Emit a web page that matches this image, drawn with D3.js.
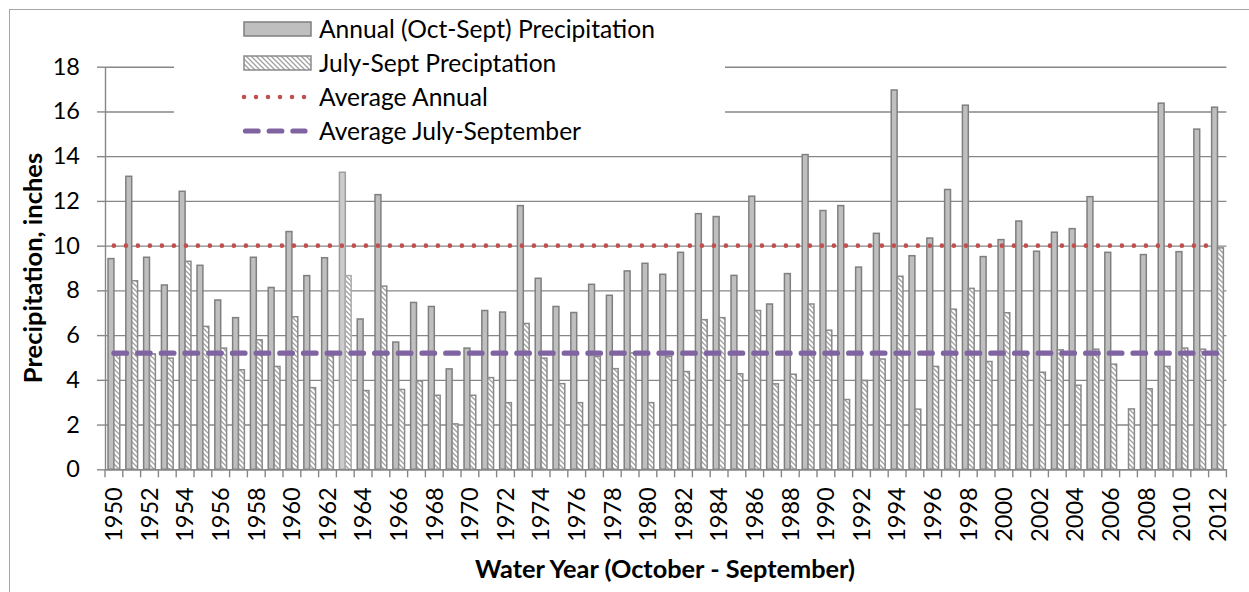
<!DOCTYPE html>
<html>
<head>
<meta charset="utf-8">
<script src="https://cdn.jsdelivr.net/npm/d3@7"></script>
<style>
  html, body { margin: 0; padding: 0; background: #fff; }
  svg { display: block; }
  text { font-family: Lato, "Open Sans", sans-serif; fill: #000; }
</style>
</head>
<body>
<svg id="chart" width="1249" height="592"></svg>
<script>
// ---- data ----
const years = [1950,1951,1952,1953,1954,1955,1956,1957,1958,1959,
  1960,1961,1962,1963,1964,1965,1966,1967,1968,1969,
  1970,1971,1972,1973,1974,1975,1976,1977,1978,1979,
  1980,1981,1982,1983,1984,1985,1986,1987,1988,1989,
  1990,1991,1992,1993,1994,1995,1996,1997,1998,1999,
  2000,2001,2002,2003,2004,2005,2006,2007,2008,2009,
  2010,2011,2012];
const annual = [9.42,13.1,9.48,8.24,12.43,9.12,7.57,6.78,9.48,8.13,
  10.63,8.66,9.46,13.28,6.72,12.28,5.69,7.46,7.28,4.49,
  5.42,7.1,7.03,11.79,8.54,7.28,7.01,8.27,7.78,8.87,
  9.21,8.72,9.7,11.43,11.3,8.67,12.21,7.39,8.75,14.07,
  11.57,11.79,9.04,10.55,16.96,9.55,10.34,12.51,16.28,9.51,
  10.27,11.1,9.75,10.6,10.76,12.19,9.7,null,9.6,16.37,
  9.73,15.21,16.19];
const julySept = [5.1,8.43,5.16,4.97,9.3,6.39,5.42,4.45,5.79,4.6,
  6.82,3.65,5.07,8.66,3.52,8.19,3.57,3.95,3.31,2.03,
  3.31,4.1,2.98,6.52,4.97,3.83,2.98,5.05,4.5,5.2,
  2.98,5.04,4.37,6.69,6.78,4.27,7.1,3.82,4.25,7.39,
  6.22,3.12,3.97,4.93,8.63,2.69,4.6,7.16,8.09,4.82,
  7.0,5.1,4.34,5.34,3.76,5.37,4.7,2.7,3.6,4.6,
  5.42,5.37,9.9];
const avgAnnual = 10.0;
const avgJulySept = 5.19;
const yTicks = [0,2,4,6,8,10,12,14,16,18];
const xLabelYears = years.filter((d, i) => i % 2 === 0);
const legendLabels = ["Annual (Oct-Sept) Precipitation", "July-Sept Preciptation", "Average Annual", "Average July-September"];
const yTitle = "Precipitation, inches";
const xTitle = "Water Year (October - September)";

// ---- layout ----
const svg = d3.select("#chart");
const L = 105, R = 1226.4, T = 66.7, B = 469.3;
const gridColor = "#878787";

const x = d3.scaleBand().domain(years).range([L, R]).paddingInner(0).paddingOuter(0);
const y = d3.scaleLinear().domain([0, 18]).range([B, T]);
const bw = x.bandwidth() * 0.33;

// defs: hatch
const defs = svg.append("defs");
const pat = defs.append("pattern").attr("id", "hatch").attr("patternUnits", "userSpaceOnUse")
  .attr("width", 5).attr("height", 5);
pat.append("rect").attr("width", 5).attr("height", 5).attr("fill", "#fff");
pat.append("path").attr("d", "M0,0 L5,5 M-1,4 L1,6 M4,-1 L6,1")
  .attr("stroke", "#a0a0a0").attr("stroke-width", 1.3);

// outer border
svg.append("rect").attr("x", 9.5).attr("y", 9.5).attr("width", 1400).attr("height", 800)
  .attr("fill", "none").attr("stroke", "#a6a6a6").attr("stroke-width", 1);

// gridlines
svg.append("g").attr("class", "grid")
  .attr("transform", `translate(${L},0)`)
  .call(d3.axisLeft(y).tickValues(yTicks).tickSize(-(R - L)).tickFormat(""))
  .call(g => g.select(".domain").remove())
  .call(g => g.selectAll("line").attr("stroke", gridColor).attr("stroke-width", 1.4));

// y axis
svg.append("g").attr("transform", `translate(${L},0)`)
  .call(d3.axisLeft(y).tickValues(yTicks).tickSize(8).tickPadding(17).tickSizeOuter(0))
  .call(g => g.select(".domain").attr("stroke", gridColor).attr("stroke-width", 1.4))
  .call(g => g.selectAll("line").attr("stroke", gridColor).attr("stroke-width", 1.4))
  .call(g => g.selectAll("text").style("font-size", "23.5px").style("font-family", "Lato").attr("fill", "#000"));

// bars
const data = years.map((yr, i) => ({ year: yr, annual: annual[i], js: julySept[i] }));
const lightYear = 1963;
svg.append("g").selectAll("rect").data(data.filter(d => d.annual != null)).join("rect")
  .attr("x", d => x(d.year) + x.bandwidth() / 2 - bw)
  .attr("y", d => y(d.annual))
  .attr("width", bw)
  .attr("height", d => y(0) - y(d.annual))
  .attr("fill", d => d.year === lightYear ? "#cccccc" : "#bfbfbf")
  .attr("stroke", d => d.year === lightYear ? "#9e9e9e" : "#7f7f7f")
  .attr("stroke-width", 1.5);
svg.append("g").selectAll("rect").data(data).join("rect")
  .attr("x", d => x(d.year) + x.bandwidth() / 2)
  .attr("y", d => y(d.js))
  .attr("width", bw)
  .attr("height", d => y(0) - y(d.js))
  .attr("fill", "url(#hatch)")
  .attr("stroke", d => d.year === lightYear ? "#acacac" : "#8a8a8a")
  .attr("stroke-width", 1.5);

// x axis
const xAxisG = svg.append("g").attr("transform", `translate(0,${B})`)
  .call(d3.axisBottom(x).tickValues(xLabelYears).tickSize(0).tickSizeOuter(0));
xAxisG.select(".domain").attr("stroke", gridColor).attr("stroke-width", 1.4);
xAxisG.selectAll("text")
  .attr("transform", "rotate(-90)")
  .attr("x", -18).attr("y", 0).attr("dy", "0.35em")
  .attr("text-anchor", "end")
  .style("font-size", "23.5px").style("font-family", "Lato").attr("fill", "#000");
// category boundary ticks
const bounds = years.map(d => x(d)).concat([R]);
svg.append("g").selectAll("line").data(bounds).join("line")
  .attr("x1", d => d).attr("x2", d => d)
  .attr("y1", B).attr("y2", B + 8)
  .attr("stroke", gridColor).attr("stroke-width", 1.4);

// average lines
const x0 = x(years[0]) + x.bandwidth() / 2;
const x1 = x(years[years.length - 1]) + x.bandwidth() / 2;
svg.append("line").attr("x1", x0).attr("x2", x1).attr("y1", y(avgAnnual)).attr("y2", y(avgAnnual))
  .attr("stroke", "#c0504d").attr("stroke-width", 4.6).attr("stroke-linecap", "round")
  .attr("stroke-dasharray", "0 12");
svg.append("line").attr("x1", x0).attr("x2", x1).attr("y1", y(avgJulySept)).attr("y2", y(avgJulySept))
  .attr("stroke", "#8064a2").attr("stroke-width", 5.2).attr("stroke-linecap", "round")
  .attr("stroke-dasharray", "12.6 11.1");

// legend
const lg = svg.append("g");
lg.append("rect").attr("x", 174).attr("y", 12).attr("width", 551).attr("height", 139).attr("fill", "#fff");
const rowY = [29, 63, 97, 131];
lg.append("rect").attr("x", 244).attr("y", 22).attr("width", 67).attr("height", 14)
  .attr("fill", "#bfbfbf").attr("stroke", "#7f7f7f").attr("stroke-width", 1.5);
lg.append("rect").attr("x", 244).attr("y", 56).attr("width", 67).attr("height", 14)
  .attr("fill", "url(#hatch)").attr("stroke", "#8a8a8a").attr("stroke-width", 1.5);
lg.append("line").attr("x1", 244).attr("x2", 305).attr("y1", rowY[2]).attr("y2", rowY[2])
  .attr("stroke", "#c0504d").attr("stroke-width", 4.6).attr("stroke-linecap", "round")
  .attr("stroke-dasharray", "0 12");
lg.append("line").attr("x1", 245.5).attr("x2", 305).attr("y1", rowY[3]).attr("y2", rowY[3])
  .attr("stroke", "#8064a2").attr("stroke-width", 5.2).attr("stroke-linecap", "round")
  .attr("stroke-dasharray", "12.6 11.1");
lg.selectAll("text").data(legendLabels).join("text")
  .attr("x", 319).attr("y", (d, i) => rowY[i]).attr("dy", "0.36em")
  .style("font-size", "24.6px").text(d => d);

// axis titles
svg.append("text").attr("transform", "translate(33,268) rotate(-90)")
  .attr("text-anchor", "middle").attr("dy", "0.36em")
  .style("font-size", "25.5px").style("font-weight", "bold").text(yTitle);
svg.append("text").attr("x", 665).attr("y", 569).attr("dy", "0.36em")
  .attr("text-anchor", "middle")
  .style("font-size", "25.3px").style("font-weight", "bold").text(xTitle);
</script>
</body>
</html>
